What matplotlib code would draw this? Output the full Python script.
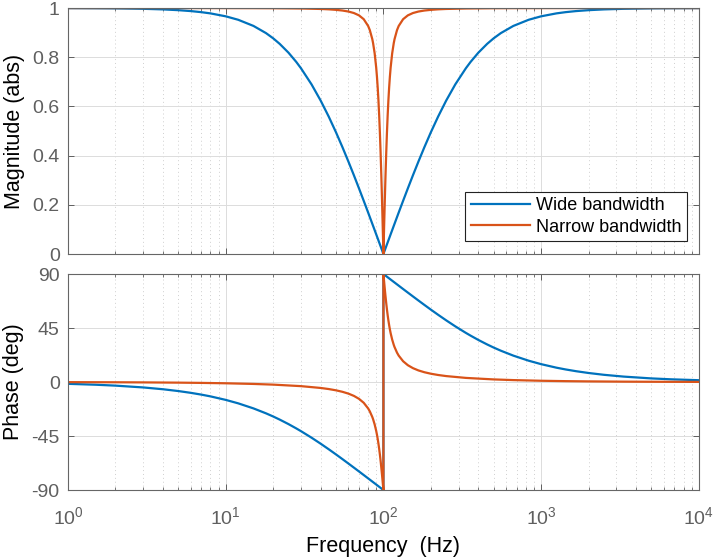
import matplotlib
matplotlib.use("Agg")
import matplotlib.pyplot as plt
from matplotlib.ticker import LogLocator, NullFormatter

plt.rcParams['font.family'] = ['Liberation Sans', 'DejaVu Sans']
plt.rcParams['mathtext.fontset'] = 'custom'
plt.rcParams['mathtext.rm'] = 'Liberation Sans'
plt.rcParams['mathtext.it'] = 'Liberation Sans'
plt.rcParams['mathtext.default'] = 'regular'

# ------------------------------------------------------------
# data (notch at 100 Hz)
# below / above the notch frequency
# ------------------------------------------------------------
wide_freq_lo = [1, 1.5, 2, 3, 4, 5, 6, 7, 8, 10, 12, 15, 18, 20, 22, 25, 28, 30, 35,
                40, 45, 50, 55, 60, 65, 70, 75, 80, 85, 90, 95, 98, 100]
wide_mag_lo = [0.9997, 0.9992, 0.9986, 0.9969, 0.9945, 0.9914, 0.9877, 0.9833, 0.9783,
               0.9664, 0.9523, 0.9273, 0.8982, 0.8769, 0.8543, 0.8186, 0.7811, 0.7553,
               0.6898, 0.6237, 0.5586, 0.4952, 0.4341, 0.3756, 0.3199, 0.2668, 0.2164,
               0.1686, 0.1231, 0.0800, 0.0390, 0.0154, 0.0]
wide_phase_lo = [-1.51, -2.26, -3.01, -4.52, -6.02, -7.52, -9.01, -10.49, -11.96,
                 -14.89, -17.77, -21.99, -26.09, -28.73, -31.32, -35.06, -38.65, -40.94,
                 -46.38, -51.41, -56.04, -60.31, -64.27, -67.94, -71.35, -74.53, -77.50,
                 -80.30, -82.93, -85.41, -87.77, -89.12, -90]

wide_freq_hi = [100, 102.04, 105.26, 111.11, 117.65, 125, 133.33, 142.86, 153.85,
                166.67, 181.82, 200, 222.22, 250, 285.71, 333.33, 357.14, 400, 454.55,
                500, 555.56, 666.67, 833.33, 1000, 1250, 1428.6, 1666.7, 2000, 2500,
                3333.3, 5000, 6666.7, 10000]
wide_mag_hi = [0.0, 0.0154, 0.0390, 0.0800, 0.1231, 0.1686, 0.2164, 0.2668, 0.3199,
               0.3756, 0.4341, 0.4952, 0.5586, 0.6237, 0.6898, 0.7553, 0.7811, 0.8186,
               0.8543, 0.8769, 0.8982, 0.9273, 0.9523, 0.9664, 0.9783, 0.9833, 0.9877,
               0.9914, 0.9945, 0.9969, 0.9986, 0.9992, 0.9997]
wide_phase_hi = [90, 89.12, 87.77, 85.41, 82.93, 80.30, 77.50, 74.53, 71.35, 67.94,
                 64.27, 60.31, 56.04, 51.41, 46.38, 40.94, 38.65, 35.06, 31.32, 28.73,
                 26.09, 21.99, 17.77, 14.89, 11.96, 10.49, 9.01, 7.52, 6.02, 4.52, 3.01,
                 2.26, 1.51]

narrow_freq_lo = [1, 2, 3, 5, 7, 10, 15, 20, 30, 40, 45, 50, 55, 60, 65, 70, 75, 80,
                  82, 85, 86, 88, 90, 91, 92, 93, 94, 95, 96, 97, 97.5, 98, 98.5, 99,
                  99.2, 99.5, 99.75, 100]
narrow_mag_lo = [1.0, 1.0, 1.0, 1.0, 0.9999, 0.9998, 0.9996, 0.9993, 0.9982, 0.9963,
                 0.9948, 0.9927, 0.9899, 0.9858, 0.9797, 0.9703, 0.9547, 0.9272, 0.9102,
                 0.8737, 0.8573, 0.8157, 0.7577, 0.7205, 0.6764, 0.6242, 0.5629, 0.4916,
                 0.4097, 0.3178, 0.2683, 0.2170, 0.1640, 0.1099, 0.0880, 0.0551, 0.0275,
                 0.0]
narrow_phase_lo = [-0.10, -0.21, -0.31, -0.52, -0.73, -1.05, -1.60, -2.17, -3.43, -4.95,
                   -5.86, -6.91, -8.16, -9.67, -11.57, -14.01, -17.31, -22.00, -24.47,
                   -29.12, -30.98, -35.35, -40.73, -43.90, -47.44, -51.38, -55.74,
                   -60.56, -65.81, -71.48, -74.44, -77.47, -80.56, -83.69, -84.95,
                   -86.84, -88.42, -90]

narrow_freq_hi = [100, 100.25, 100.5, 100.81, 101.01, 101.52, 102.04, 102.56, 103.09,
                  104.17, 105.26, 106.38, 107.53, 108.70, 109.89, 111.11, 113.64, 116.28,
                  117.65, 121.95, 125, 133.33, 142.86, 153.85, 166.67, 181.82, 200,
                  222.22, 250, 333.33, 500, 666.67, 1000, 1428.6, 2000, 3333.3, 5000,
                  10000]
narrow_mag_hi = [0.0, 0.0275, 0.0551, 0.0880, 0.1099, 0.1640, 0.2170, 0.2683, 0.3178,
                 0.4097, 0.4916, 0.5629, 0.6242, 0.6764, 0.7205, 0.7577, 0.8157, 0.8573,
                 0.8737, 0.9102, 0.9272, 0.9547, 0.9703, 0.9797, 0.9858, 0.9899, 0.9927,
                 0.9948, 0.9963, 0.9982, 0.9993, 0.9996, 0.9998, 0.9999, 1.0, 1.0, 1.0,
                 1.0]
narrow_phase_hi = [90, 88.42, 86.84, 84.95, 83.69, 80.56, 77.47, 74.44, 71.48, 65.81,
                   60.56, 55.74, 51.38, 47.44, 43.90, 40.73, 35.35, 30.98, 29.12, 24.47,
                   22.00, 17.31, 14.01, 11.57, 9.67, 8.16, 6.91, 5.86, 4.95, 3.43, 2.17,
                   1.60, 1.05, 0.73, 0.52, 0.31, 0.21, 0.10]

mag_ticks = [0, 0.2, 0.4, 0.6, 0.8, 1]
mag_labels = ['0', '0.2', '0.4', '0.6', '0.8', '1']
phase_ticks = [-90, -45, 0, 45, 90]
phase_labels = ['-90', '-45', '0', '45', '90']

wide_freq = wide_freq_lo + wide_freq_hi
wide_mag = wide_mag_lo + wide_mag_hi
wide_phase = wide_phase_lo + wide_phase_hi
narrow_freq = narrow_freq_lo + narrow_freq_hi
narrow_mag = narrow_mag_lo + narrow_mag_hi
narrow_phase = narrow_phase_lo + narrow_phase_hi

blue = '#0072BD'
orange = '#D95319'
tick_gray = '#5f5f5f'

fig = plt.figure(figsize=(7.16, 5.59), dpi=100)
ax1 = fig.add_axes([0.095, 0.5456, 0.881, 0.4400])
ax2 = fig.add_axes([0.095, 0.1234, 0.881, 0.3864])


def style_axis(ax):
    ax.set_xscale('log')
    ax.set_xlim(1, 1e4)
    ax.xaxis.set_minor_locator(LogLocator(base=10, subs=range(2, 10), numticks=20))
    ax.xaxis.set_minor_formatter(NullFormatter())
    ax.grid(which='major', color='#dcdcdc', lw=0.7, ls='-')
    ax.grid(which='minor', axis='x', color='#cfcfcf', lw=0.7, ls=(0, (1, 3)))
    ax.set_axisbelow(True)
    ax.tick_params(which='both', direction='in', top=True, right=True,
                   colors=tick_gray, labelsize=14, pad=6)
    ax.tick_params(axis='x', pad=12)
    ax.tick_params(which='major', length=4, width=0.7)
    ax.tick_params(which='minor', length=2.5, width=0.6)
    for sp in ax.spines.values():
        sp.set_color('#666666')
        sp.set_linewidth(0.8)


style_axis(ax1)
style_axis(ax2)

ax1.plot(wide_freq, wide_mag, color=blue, lw=1.6, label='Wide bandwidth')
ax1.plot(narrow_freq, narrow_mag, color=orange, lw=1.6, label='Narrow bandwidth')
ax1.set_ylim(0, 1)
ax1.set_yticks(mag_ticks)
ax1.set_yticklabels(mag_labels)
ax1.tick_params(axis='x', labelbottom=False)
ax1.set_ylabel('Magnitude (abs)', fontsize=15.5, labelpad=5)

leg = ax1.legend(loc='lower right', bbox_to_anchor=(0.981, 0.053), borderaxespad=0,
                 fontsize=13, handlelength=3.3, fancybox=False, framealpha=1,
                 edgecolor='#222222', borderpad=0.3, labelspacing=0.25,
                 handletextpad=0.3)
leg.get_frame().set_linewidth(0.8)

ax2.plot(wide_freq, wide_phase, color=blue, lw=1.6)
ax2.plot(narrow_freq, narrow_phase, color=orange, lw=1.6)
ax2.set_ylim(-90, 90)
ax2.set_yticks(phase_ticks)
ax2.set_yticklabels(phase_labels)
ax2.set_ylabel('Phase (deg)', fontsize=15.5, labelpad=5)
ax2.set_xlabel('Frequency  (Hz)', fontsize=15.5, labelpad=5)

fig.savefig('out.png', dpi=100)
